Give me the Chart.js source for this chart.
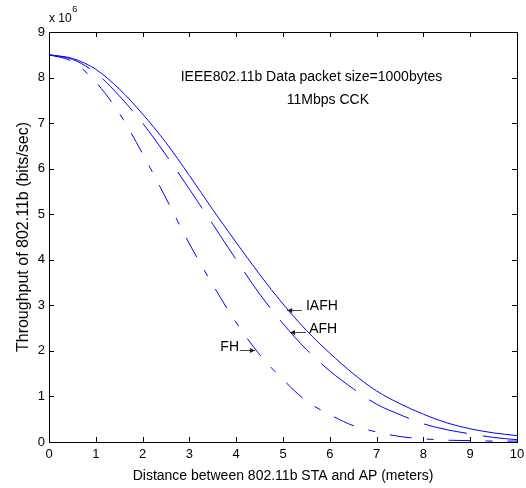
<!DOCTYPE html>
<html>
<head>
<meta charset="utf-8">
<script src="https://cdn.jsdelivr.net/npm/chart.js@4/dist/chart.umd.min.js"></script>
<style>
  html, body { margin: 0; padding: 0; background: #fff; }
  canvas { display: block; }
</style>
</head>
<body>
<canvas id="grafico" width="526" height="488"></canvas>
<script>
// Datos (distancia en metros, throughput en unidades de 10^6 bits/s)
const distancias = [0, 0.5, 1, 1.5, 2, 2.5, 3, 3.5, 4, 4.5, 5, 5.5, 6, 6.5, 7, 7.5, 8, 8.5, 9, 9.5, 10];
const iafh = [8.5, 8.42, 8.18, 7.75, 7.2, 6.57, 5.85, 5.1, 4.38, 3.68, 3.03, 2.45, 1.95, 1.5, 1.12, 0.84, 0.61, 0.42, 0.29, 0.2, 0.14];
const afh = [8.5, 8.4, 8.1, 7.6, 7.0, 6.3, 5.55, 4.78, 4.0, 3.25, 2.6, 2.03, 1.56, 1.17, 0.83, 0.6, 0.4, 0.27, 0.18, 0.1, 0.05];
const fh = [8.5, 8.35, 7.9, 7.22, 6.33, 5.35, 4.35, 3.45, 2.62, 1.92, 1.37, 0.9, 0.6, 0.36, 0.22, 0.12, 0.07, 0.04, 0.03, 0.02, 0.02];

const ticksX = [0, 1, 2, 3, 4, 5, 6, 7, 8, 9, 10];
const ticksY = [0, 1, 2, 3, 4, 5, 6, 7, 8, 9];

// Etiquetas con flecha: [texto, x texto, y texto, alineación, x punta, y punta, x cola]
const etiquetas = [
    ["IAFH", 5.49, 2.98, "left", 5.09, 2.90, 5.40],
    ["AFH", 5.56, 2.48, "left", 5.15, 2.42, 5.49],
    ["FH", 4.06, 2.09, "right", 4.40, 2.02, 4.08]
];

const fuente = "'Liberation Sans', Arial, sans-serif";

function puntos(valores) {
    return distancias.map((d, i) => ({ x: d, y: valores[i] }));
}

// Plugin para dibujar el marco, las marcas hacia dentro y los textos al estilo MATLAB
const estiloMatlab = {
    id: "estiloMatlab",
    afterDraw(chart) {
        const ctx = chart.ctx;
        const area = chart.chartArea;
        const sx = chart.scales.x;
        const sy = chart.scales.y;
        ctx.save();

        // Marco
        ctx.strokeStyle = "#000";
        ctx.lineWidth = 1;
        ctx.strokeRect(Math.round(area.left) + 0.5, Math.round(area.top) + 0.5,
            Math.round(area.right - area.left), Math.round(area.bottom - area.top));

        // Marcas hacia dentro
        const largo = 5;
        ctx.beginPath();
        ticksX.forEach(v => {
            const px = Math.round(sx.getPixelForValue(v)) + 0.5;
            ctx.moveTo(px, area.bottom);
            ctx.lineTo(px, area.bottom - largo);
            ctx.moveTo(px, area.top);
            ctx.lineTo(px, area.top + largo);
        });
        ticksY.forEach(v => {
            const py = Math.round(sy.getPixelForValue(v)) + 0.5;
            ctx.moveTo(area.left, py);
            ctx.lineTo(area.left + largo, py);
            ctx.moveTo(area.right, py);
            ctx.lineTo(area.right - largo, py);
        });
        ctx.stroke();

        // Multiplicador del eje Y
        ctx.fillStyle = "#000";
        ctx.textBaseline = "middle";
        ctx.textAlign = "left";
        ctx.font = "12px " + fuente;
        ctx.fillText("x 10", area.left, area.top - 13);
        const ancho = ctx.measureText("x 10").width;
        ctx.font = "9px " + fuente;
        ctx.fillText("6", area.left + ancho + 0.5, area.top - 22);

        // Texto de condiciones
        ctx.font = "14px " + fuente;
        ctx.textAlign = "center";
        ctx.fillText("IEEE802.11b Data packet size=1000bytes", sx.getPixelForValue(5.61), sy.getPixelForValue(8.0));
        ctx.fillText("11Mbps CCK", sx.getPixelForValue(5.96), sy.getPixelForValue(7.51));

        // Etiquetas con flecha
        etiquetas.forEach(([texto, tx, ty, alin, px, py, cx]) => {
            ctx.font = "14px " + fuente;
            ctx.textAlign = alin;
            ctx.fillStyle = "#000";
            ctx.fillText(texto, sx.getPixelForValue(tx), sy.getPixelForValue(ty));

            const x1 = sx.getPixelForValue(cx);
            const x2 = sx.getPixelForValue(px);
            const y2 = Math.round(sy.getPixelForValue(py)) + 0.5;
            ctx.strokeStyle = "#444";
            ctx.lineWidth = 1;
            ctx.beginPath();
            ctx.moveTo(x1, y2);
            ctx.lineTo(x2, y2);
            ctx.stroke();
            const dir = Math.sign(x2 - x1);
            ctx.fillStyle = "#222";
            ctx.beginPath();
            ctx.moveTo(x2, y2);
            ctx.lineTo(x2 - dir * 5, y2 - 2.5);
            ctx.lineTo(x2 - dir * 5, y2 + 2.5);
            ctx.closePath();
            ctx.fill();
        });

        ctx.restore();
    }
};

const serie = (etiqueta, valores, guion) => ({
    label: etiqueta,
    data: puntos(valores),
    borderColor: "#0000ff",
    borderWidth: 1,
    borderDash: guion,
    pointRadius: 0,
    fill: false,
    cubicInterpolationMode: "monotone"
});

new Chart(document.getElementById("grafico").getContext("2d"), {
    type: "line",
    data: {
        datasets: [
            serie("IAFH", iafh, []),
            serie("AFH", afh, [44, 16]),
            serie("FH", fh, [22, 15, 7, 15])
        ]
    },
    options: {
        responsive: false,
        animation: false,
        layout: { padding: { top: 32, right: 9, left: 0, bottom: 0 } },
        plugins: {
            legend: { display: false },
            tooltip: { enabled: false }
        },
        scales: {
            x: {
                type: "linear",
                min: 0,
                max: 10,
                afterFit: s => { s.height = 46; s.paddingLeft = 0; s.paddingRight = 0; },
                afterBuildTicks: s => { s.ticks = ticksX.map(v => ({ value: v })); },
                grid: { display: false, drawTicks: false },
                border: { display: false },
                ticks: { padding: 5, color: "#000", font: { family: fuente, size: 13 }, maxRotation: 0 },
                title: {
                    display: true,
                    text: "Distance between 802.11b STA and AP (meters)",
                    color: "#000",
                    font: { family: fuente, size: 14 },
                    padding: { top: 0, bottom: 3 }
                }
            },
            y: {
                type: "linear",
                min: 0,
                max: 9,
                afterFit: s => { s.width = 49; s.paddingTop = 0; s.paddingBottom = 0; },
                afterBuildTicks: s => { s.ticks = ticksY.map(v => ({ value: v })); },
                grid: { display: false, drawTicks: false },
                border: { display: false },
                ticks: { padding: 4, color: "#000", font: { family: fuente, size: 13 } },
                title: {
                    display: true,
                    text: "Throughput of 802.11b (bits/sec)",
                    color: "#000",
                    font: { family: fuente, size: 16 },
                    padding: { top: 14, bottom: 0 }
                }
            }
        }
    },
    plugins: [estiloMatlab]
});
</script>
</body>
</html>
